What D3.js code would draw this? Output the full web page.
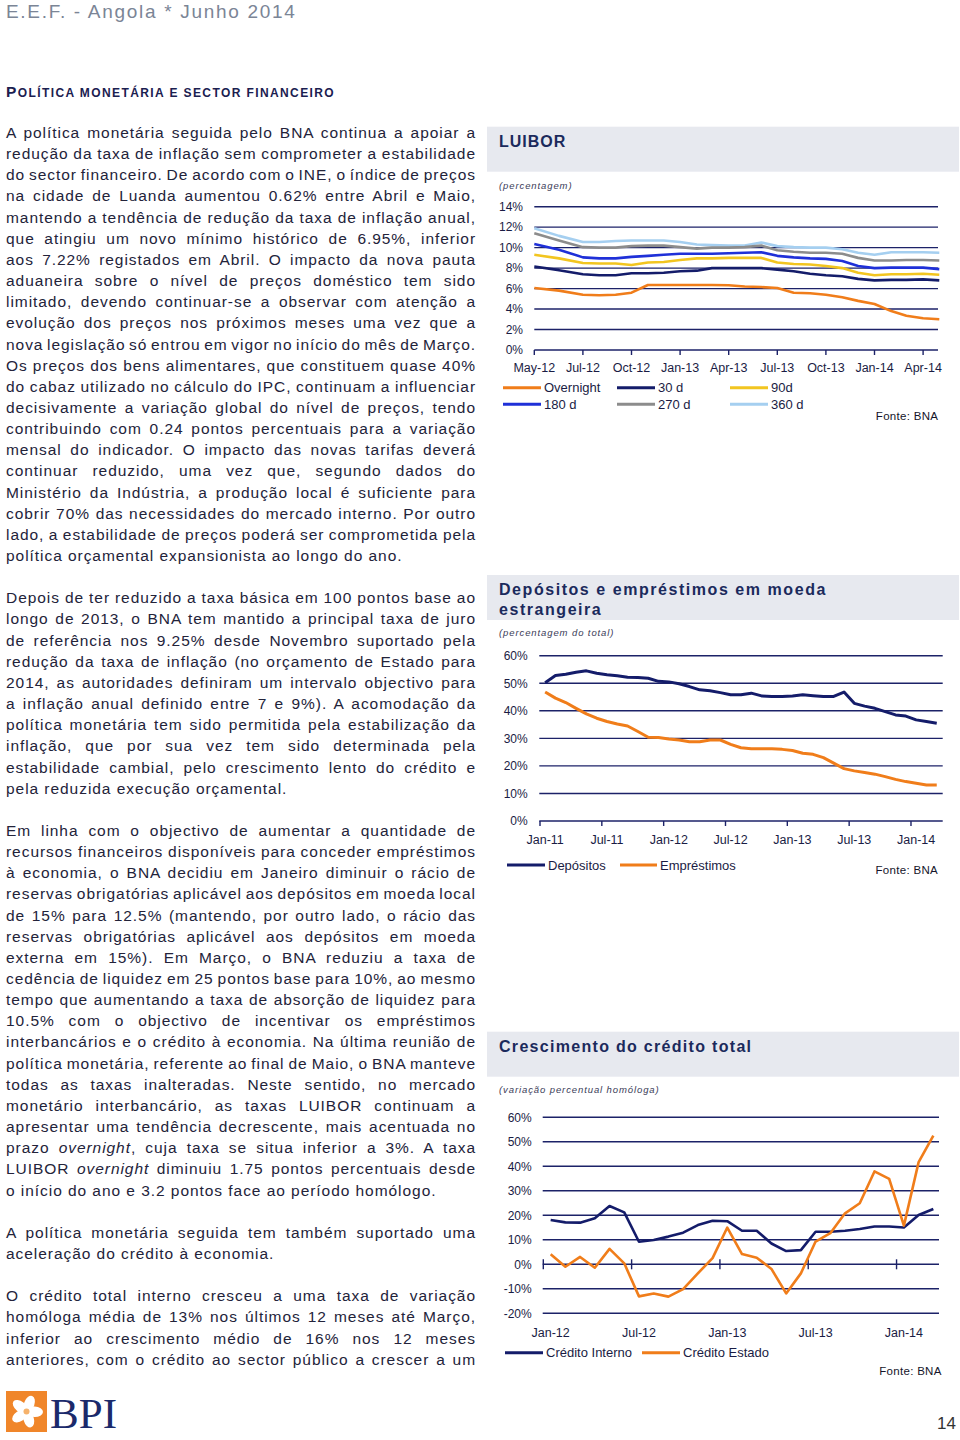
<!DOCTYPE html>
<html><head><meta charset="utf-8">
<script src="https://cdn.jsdelivr.net/npm/d3@7"></script>
<style>
body{margin:0;background:#fff;}
svg{display:block;}
</style></head><body>
<svg id="page" width="960" height="1440"></svg>
<script>
// ---------------- DATA ----------------
// LUIBOR (percent), monthly May-12 .. May-14
const luiborTickLabels = ["May-12","Jul-12","Oct-12","Jan-13","Apr-13","Jul-13","Oct-13","Jan-14","Apr-14"];
const luiborYTicks = [0,2,4,6,8,10,12,14];
const luiborNames = ["Overnight","30 d","90d","180 d","270 d","360 d"];
const overnight = [6.05,5.8,5.4,5.35,5.4,5.6,6.35,6.35,6.35,6.35,6.35,6.33,6.2,6.15,6.05,5.6,5.55,5.4,5.15,4.8,4.5,3.8,3.35,3.1,3.0];
const d30  = [8.15,7.8,7.4,7.3,7.3,7.5,7.5,7.55,7.7,7.75,8.0,8.0,8.0,8.0,7.85,7.7,7.45,7.3,7.2,6.95,6.8,6.85,6.85,6.9,6.8];
const d90  = [9.3,8.95,8.5,8.45,8.45,8.3,8.55,8.6,8.8,8.95,8.95,9.0,9.0,9.0,8.55,8.4,8.35,8.2,8.0,7.55,7.3,7.4,7.4,7.45,7.35];
const d180 = [10.35,9.8,9.05,8.95,8.95,9.1,9.2,9.3,9.4,9.4,9.4,9.45,9.5,9.55,9.2,9.05,8.95,8.9,8.7,8.2,8.0,8.05,8.05,8.05,7.9];
const d270 = [11.4,10.7,10.05,10.0,10.0,10.15,10.2,10.2,10.05,9.9,10.0,10.0,10.05,10.2,9.75,9.6,9.5,9.5,9.4,9.0,8.75,8.75,8.8,8.8,8.75];
const d360 = [11.9,11.15,10.55,10.55,10.65,10.7,10.7,10.7,10.55,10.3,10.25,10.2,10.2,10.5,10.15,10.05,10.0,10.0,9.85,9.5,9.3,9.55,9.55,9.55,9.5];

// Foreign-currency deposits & loans (% of total), monthly Jan-11 .. Mar-14
const fxTickLabels = ["Jan-11","Jul-11","Jan-12","Jul-12","Jan-13","Jul-13","Jan-14"];
const fxYTicks = [0,10,20,30,40,50,60];
const fxNames = ["Depósitos","Empréstimos"];
const depositos = [50.2,52.8,53.3,54.0,54.5,53.6,53.1,52.7,52.2,52.1,51.8,50.7,50.5,49.8,48.8,47.6,47.3,46.6,45.8,45.8,46.4,45.4,45.2,45.2,45.4,45.8,45.5,45.2,45.2,46.8,42.7,41.7,40.9,39.7,38.5,38.1,36.7,36.1,35.5];
const emprestimos = [46.8,44.6,43.0,40.9,38.9,37.3,36.1,35.2,34.5,32.5,30.4,30.3,29.8,29.4,28.8,28.8,29.4,29.4,27.8,26.6,26.2,26.2,26.2,26.0,25.6,24.6,24.2,23.0,21.0,19.0,18.2,17.6,17.0,16.1,15.1,14.3,13.7,13.1,13.1];

// Credit growth (yoy %), monthly Jan-12 .. Mar-14
const crTickLabels = ["Jan-12","Jul-12","Jan-13","Jul-13","Jan-14"];
const crYTicks = [-20,-10,0,10,20,30,40,50,60];
const crNames = ["Crédito Interno","Crédito Estado"];
const creditoInterno = [18.1,17.1,17.0,18.8,23.8,21.2,9.2,9.9,11.3,12.9,16.0,17.8,17.6,13.7,13.7,8.5,5.4,5.8,13.3,13.3,13.7,14.4,15.4,15.4,15.0,20.1,22.6];
const creditoEstado  = [4.1,-1.0,3.0,-1.4,6.3,0.4,-13.1,-11.9,-13.2,-10.1,-3.7,2.5,15.0,4.2,2.7,-1.9,-11.9,-3.7,9.3,12.7,20.8,24.9,37.9,34.9,15.8,41.7,52.5];

// ---------------- TEXT ----------------
const para1 = [
"A política monetária seguida pelo BNA continua a apoiar a",
"redução da taxa de inflação sem comprometer a estabilidade",
"do sector financeiro. De acordo com o INE, o índice de preços",
"na cidade de Luanda aumentou 0.62% entre Abril e Maio,",
"mantendo a tendência de redução da taxa de inflação anual,",
"que atingiu um novo mínimo histórico de 6.95%, inferior",
"aos 7.22% registados em Abril. O impacto da nova pauta",
"aduaneira sobre o nível de preços doméstico tem sido",
"limitado, devendo continuar-se a observar com atenção a",
"evolução dos preços nos próximos meses uma vez que a",
"nova legislação só entrou em vigor no início do mês de Março.",
"Os preços dos bens alimentares, que constituem quase 40%",
"do cabaz utilizado no cálculo do IPC, continuam a influenciar",
"decisivamente a variação global do nível de preços, tendo",
"contribuindo com 0.24 pontos percentuais para a variação",
"mensal do indicador. O impacto das novas tarifas deverá",
"continuar reduzido, uma vez que, segundo dados do",
"Ministério da Indústria, a produção local é suficiente para",
"cobrir 70% das necessidades do mercado interno. Por outro",
"lado, a estabilidade de preços poderá ser comprometida pela",
"política orçamental expansionista ao longo do ano."];
const para2 = [
"Depois de ter reduzido a taxa básica em 100 pontos base ao",
"longo de 2013, o BNA tem mantido a principal taxa de juro",
"de referência nos 9.25% desde Novembro suportado pela",
"redução da taxa de inflação (no orçamento de Estado para",
"2014, as autoridades definiram um intervalo objectivo para",
"a inflação anual definido entre 7 e 9%). A acomodação da",
"política monetária tem sido permitida pela estabilização da",
"inflação, que por sua vez tem sido determinada pela",
"estabilidade cambial, pelo crescimento lento do crédito e",
"pela reduzida execução orçamental."];
const para3 = [
"Em linha com o objectivo de aumentar a quantidade de",
"recursos financeiros disponíveis para conceder empréstimos",
"à economia, o BNA decidiu em Janeiro diminuir o rácio de",
"reservas obrigatórias aplicável aos depósitos em moeda local",
"de 15% para 12.5% (mantendo, por outro lado, o rácio das",
"reservas obrigatórias aplicável aos depósitos em moeda",
"externa em 15%). Em Março, o BNA reduziu a taxa de",
"cedência de liquidez em 25 pontos base para 10%, ao mesmo",
"tempo que aumentando a taxa de absorção de liquidez para",
"10.5% com o objectivo de incentivar os empréstimos",
"interbancários e o crédito à economia. Na última reunião de",
"política monetária, referente ao final de Maio, o BNA manteve",
"todas as taxas inalteradas. Neste sentido, no mercado",
"monetário interbancário, as taxas LUIBOR continuam a",
"apresentar uma tendência decrescente, mais acentuada no",
"prazo _overnight_, cuja taxa se situa inferior a 3%. A taxa",
"LUIBOR _overnight_ diminuiu 1.75 pontos percentuais desde",
"o início do ano e 3.2 pontos face ao período homólogo."];
const para4 = [
"A política monetária seguida tem também suportado uma",
"aceleração do crédito à economia."];
const para5 = [
"O crédito total interno cresceu a uma taxa de variação",
"homóloga média de 13% nos últimos 12 meses até Março,",
"inferior ao crescimento médio de 16% nos 12 meses",
"anteriores, com o crédito ao sector público a crescer a um"];

// ---------------- DRAW ----------------
const svg = d3.select("#page");
const FONT = "'Liberation Sans', Arial, sans-serif";
const GRID = "#1c2268";
const LABEL = "#1a1c44";
const TITLE = "#1b2a5c";
const BANDC = "#e7e9ef";
const colOrange = "#f07d1a", colNavy = "#141c6a", colYellow = "#f2c520",
      colBlue = "#1f30d8", colGray = "#8c8c8c", colLight = "#a5cff0";

// header
svg.append("text").attr("x",6).attr("y",17.5).attr("font-family",FONT).attr("font-size",19)
  .attr("letter-spacing",1.7).attr("fill","#7b8596").text("E.E.F. - Angola * Junho 2014");
const st = svg.append("text").attr("x",6).attr("y",96.5).attr("font-family",FONT)
  .attr("font-weight","bold").attr("fill","#1b2050").attr("letter-spacing",1.4);
st.append("tspan").attr("font-size",15.5).text("P");
st.append("tspan").attr("font-size",12).text("OLÍTICA MONETÁRIA E SECTOR FINANCEIRO");

// body text
const LH = 21.15, BASE0 = 138, TXT_W = 470;
function paragraph(lines, k0, justifyLast){
  lines.forEach((ln,i)=>{
    const t = svg.append("text").attr("x",6).attr("y",BASE0+(k0+i)*LH)
      .attr("font-family",FONT).attr("font-size",15.5).attr("letter-spacing",0.95)
      .attr("fill","#23233a");
    ln.split(/(_[^_]+_)/).filter(s=>s.length).forEach(seg=>{
      const it = seg.startsWith("_");
      t.append("tspan").attr("font-style", it?"italic":null).text(it?seg.slice(1,-1):seg);
    });
    if (i < lines.length-1 || justifyLast){
      const spaces = (ln.match(/ /g)||[]).length;
      let w = t.node().getComputedTextLength();
      let ws = (TXT_W - w)/spaces;
      t.style("word-spacing", ws+"px");
      const w2 = t.node().getComputedTextLength();
      if (Math.abs(w2 - w) < 0.5 && Math.abs(TXT_W - w) > 1){
        t.style("word-spacing", null).attr("textLength", TXT_W).attr("lengthAdjust","spacing");
      } else {
        ws += (TXT_W - w2)/spaces;
        t.style("word-spacing", ws+"px");
      }
    }
  });
}
paragraph(para1, 0, false);
paragraph(para2, 22, false);
paragraph(para3, 33, false);
paragraph(para4, 52, false);
paragraph(para5, 55, true);

// chart helpers
function titleBand(yTop, lines, sub, subY, ls){
  svg.append("rect").attr("x",487).attr("y",yTop).attr("width",472).attr("height",45).attr("fill",BANDC);
  lines.forEach((l,i)=> svg.append("text").attr("x",499).attr("y",yTop+20+i*20)
    .attr("font-family",FONT).attr("font-weight","bold").attr("font-size",16)
    .attr("letter-spacing",ls).attr("fill",TITLE).text(l));
  svg.append("text").attr("x",499).attr("y",subY).attr("font-family",FONT).attr("font-style","italic")
    .attr("font-size",9.5).attr("letter-spacing",0.9).attr("fill","#3a3c58").text(sub);
}
function gridY(y, ticks, x0, x1, labelX, fmt){
  const g = svg.append("g");
  g.selectAll("line").data(ticks).join("line")
    .attr("x1",x0).attr("x2",x1).attr("y1",d=>y(d)).attr("y2",d=>y(d))
    .attr("stroke",GRID).attr("stroke-width",1.4);
  g.selectAll("text").data(ticks).join("text")
    .attr("x",labelX).attr("y",d=>y(d)).attr("dy","0.36em").attr("text-anchor","end")
    .attr("font-family",FONT).attr("font-size",12).attr("fill",LABEL).text(fmt);
}
function legendItem(x, y, color, label, w){
  svg.append("line").attr("x1",x).attr("x2",x+(w||38)).attr("y1",y).attr("y2",y)
    .attr("stroke",color).attr("stroke-width",3);
  svg.append("text").attr("x",x+(w||38)+3).attr("y",y).attr("dy","0.36em")
    .attr("font-family",FONT).attr("font-size",13).attr("fill",LABEL).text(label);
}
function fonte(xr, y){
  svg.append("text").attr("x",xr).attr("y",y).attr("text-anchor","end").attr("font-family",FONT)
    .attr("font-size",11.5).attr("fill","#15152a").attr("letter-spacing",0.3).text("Fonte: BNA");
}
const pct = d=> d+"%";

// ---------- Chart 1: LUIBOR ----------
titleBand(126.7, ["LUIBOR"], "(percentagem)", 189, 1);
const parseM = d3.timeParse("%b-%y");
const tickDates1 = luiborTickLabels.map(parseM);
const months1 = d3.timeMonth.range(tickDates1[0], d3.timeMonth.offset(tickDates1[tickDates1.length-1], 2));
const c1 = {x0:534.3, x1:938, step:48.6};
const x1 = d3.scaleTime()
  .domain(tickDates1.concat([d3.timeMonth.offset(tickDates1[tickDates1.length-1],1)]))
  .range(tickDates1.map((d,i)=>c1.x0+i*c1.step).concat([c1.x0+(tickDates1.length-1)*c1.step+c1.step/3]));
const y1 = d3.scaleLinear().domain([0,14]).range([350,206.7]);
gridY(y1, luiborYTicks, c1.x0, c1.x1, 523, pct);
svg.append("g").selectAll("line").data(tickDates1).join("line")
  .attr("x1",d=>x1(d)).attr("x2",d=>x1(d)).attr("y1",y1(0)).attr("y2",y1(0)+5)
  .attr("stroke",GRID).attr("stroke-width",1.4);
svg.append("g").selectAll("text").data(tickDates1).join("text")
  .attr("x",d=>x1(d)).attr("y",372).attr("text-anchor","middle").attr("font-family",FONT)
  .attr("font-size",12.5).attr("fill",LABEL).text((d,i)=>luiborTickLabels[i]);
const line1 = d3.line().x((d,i)=>x1(months1[i])).y(d=>y1(d));
const series1 = [[d360,colLight],[d270,colGray],[d90,colYellow],[d30,colNavy],[d180,colBlue],[overnight,colOrange]];
series1.forEach(([v,c])=> svg.append("path").attr("d",line1(v)).attr("fill","none")
  .attr("stroke",c).attr("stroke-width",2.6).attr("stroke-linejoin","round"));
const lcols1 = [colOrange,colNavy,colYellow,colBlue,colGray,colLight];
const lx1 = [503,617,730];
luiborNames.forEach((n,i)=> legendItem(lx1[i%3], i<3?387.7:404.3, lcols1[i], n));
fonte(938.3, 419.5);

// ---------- Chart 2: FX deposits / loans ----------
titleBand(575, ["Depósitos e empréstimos em moeda","estrangeira"], "(percentagem do total)", 636, 1.55);
const startFx = parseM(fxTickLabels[0]);
const months2 = depositos.map((d,i)=> d3.timeMonth.offset(startFx,i));
const x2 = d3.scaleBand().domain(months2).range([540, 941.9]);
const y2 = d3.scaleLinear().domain([0,60]).range([821,655.7]);
gridY(y2, fxYTicks, 539.3, 942.7, 527.7, pct);
const tick2 = fxTickLabels.map(parseM);
svg.append("g").selectAll("line").data(tick2).join("line")
  .attr("x1",d=>x2(d)).attr("x2",d=>x2(d)).attr("y1",y2(0)).attr("y2",y2(0)+5)
  .attr("stroke",GRID).attr("stroke-width",1.4);
svg.append("g").selectAll("text").data(tick2).join("text")
  .attr("x",d=>x2(d)+x2.bandwidth()/2).attr("y",843.5).attr("text-anchor","middle").attr("font-family",FONT)
  .attr("font-size",12.5).attr("fill",LABEL).text((d,i)=>fxTickLabels[i]);
const line2 = d3.line().x((d,i)=>x2(months2[i])+x2.bandwidth()/2).y(d=>y2(d));
[[depositos,colNavy],[emprestimos,colOrange]].forEach(([v,c])=> svg.append("path").attr("d",line2(v))
  .attr("fill","none").attr("stroke",c).attr("stroke-width",3).attr("stroke-linejoin","round"));
legendItem(507, 865, colNavy, fxNames[0]);
legendItem(620, 865, colOrange, fxNames[1], 37);
fonte(938, 874);

// ---------- Chart 3: credit growth ----------
titleBand(1031.7, ["Crescimento do crédito total"], "(variação percentual homóloga)", 1093, 1.3);
const startCr = parseM(crTickLabels[0]);
const months3 = creditoInterno.map((d,i)=> d3.timeMonth.offset(startCr,i));
const x3 = d3.scaleBand().domain(months3).range([543.3, 940.7]);
const y3 = d3.scaleLinear().domain([-20,60]).range([1313.3,1117.3]);
gridY(y3, crYTicks, 542.7, 939, 531.7, pct);
const tick3 = crTickLabels.map(parseM);
svg.append("g").selectAll("line").data(tick3).join("line")
  .attr("x1",d=>x3(d)).attr("x2",d=>x3(d)).attr("y1",y3(0)-5).attr("y2",y3(0)+5)
  .attr("stroke",GRID).attr("stroke-width",1.4);
svg.append("g").selectAll("text").data(tick3).join("text")
  .attr("x",d=>x3(d)+x3.bandwidth()/2).attr("y",1337).attr("text-anchor","middle").attr("font-family",FONT)
  .attr("font-size",12.5).attr("fill",LABEL).text((d,i)=>crTickLabels[i]);
const line3 = d3.line().x((d,i)=>x3(months3[i])+x3.bandwidth()/2).y(d=>y3(d));
[[creditoInterno,colNavy],[creditoEstado,colOrange]].forEach(([v,c])=> svg.append("path").attr("d",line3(v))
  .attr("fill","none").attr("stroke",c).attr("stroke-width",2.6).attr("stroke-linejoin","round"));
legendItem(505, 1352.7, colNavy, crNames[0]);
legendItem(642, 1352.7, colOrange, crNames[1]);
fonte(941.7, 1374.5);

// ---------- footer: logo + page number ----------
const logo = svg.append("g");
logo.append("rect").attr("x",6).attr("y",1391).attr("width",41).attr("height",41).attr("fill","#f0862a");
const fcx = 26.5, fcy = 1411.5;
[0,72,144,216,288].forEach(a=> logo.append("ellipse").attr("cx",fcx).attr("cy",fcy-8).attr("rx",5.2).attr("ry",8.5)
  .attr("fill","#fff").attr("transform",`rotate(${a+20},${fcx},${fcy})`));
logo.append("circle").attr("cx",fcx).attr("cy",fcy).attr("r",3).attr("fill","#f6b26b");
svg.append("text").attr("x",50).attr("y",1428).attr("font-family","'Liberation Serif', 'Times New Roman', serif")
  .attr("font-size",43).attr("fill","#1b2a6b").attr("textLength",67).attr("lengthAdjust","spacingAndGlyphs").text("BPI");
svg.append("text").attr("x",956).attr("y",1429).attr("text-anchor","end").attr("font-family",FONT)
  .attr("font-size",17).attr("fill","#333").text("14");
</script>
</body></html>
